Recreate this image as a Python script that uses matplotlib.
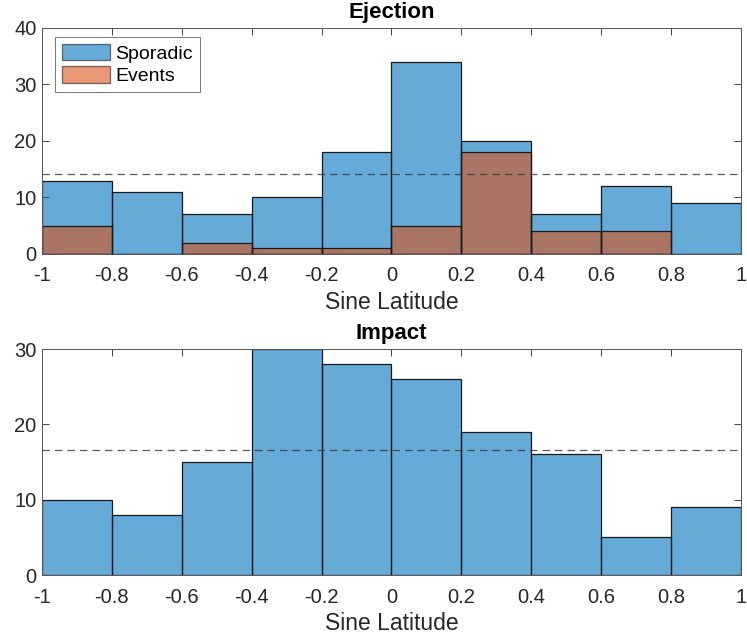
#!/usr/bin/env python3
"""
Histogramas de latitud (seno) para eyección e impacto
"""

import numpy as np
import matplotlib
matplotlib.use('Agg')
import matplotlib.pyplot as plt

plt.rcParams['font.family'] = ['Liberation Sans', 'DejaVu Sans']

# Bordes de los intervalos (seno de la latitud)
bin_edges = [-1.0, -0.8, -0.6, -0.4, -0.2, 0.0, 0.2, 0.4, 0.6, 0.8, 1.0]

# Conteos por intervalo
ejection_sporadic = [13, 11, 7, 10, 18, 34, 20, 7, 12, 9]
ejection_events = [5, 0, 2, 1, 1, 5, 18, 4, 4, 0]
impact_sporadic = [10, 8, 15, 30, 28, 26, 19, 16, 5, 9]

x_ticks = [-1, -0.8, -0.6, -0.4, -0.2, 0, 0.2, 0.4, 0.6, 0.8, 1]
x_ticklabels = ['-1', '-0.8', '-0.6', '-0.4', '-0.2', '0', '0.2', '0.4', '0.6', '0.8', '1']

BLUE = '#0072BD'
ORANGE = '#D95319'
AXIS_GRAY = '#262626'


def hist_bars(ax, counts, color, label):
    left = np.array(bin_edges[:-1])
    width = np.diff(bin_edges)
    ax.bar(left, counts, width=width, align='edge', color=color, alpha=0.6,
           edgecolor='none', label=label, zorder=2)
    # bordes opacos como en MATLAB
    ax.bar(left, counts, width=width, align='edge', fill=False,
           edgecolor='#1a1a1a', linewidth=0.9, zorder=3)


def style_axis(ax, ymax, yticks, title):
    ax.set_xlim(-1, 1)
    ax.set_ylim(0, ymax)
    ax.set_xticks(x_ticks)
    ax.set_xticklabels(x_ticklabels)
    ax.set_yticks(yticks)
    ax.tick_params(direction='in', top=True, right=True, length=5,
                   width=0.6, colors=AXIS_GRAY, labelsize=14.5)
    ax.tick_params(axis='x', pad=9)
    ax.tick_params(axis='y', pad=4)
    for s in ax.spines.values():
        s.set_color('#555555')
        s.set_linewidth(0.7)
        s.set_zorder(4)
    ax.set_xlabel('Sine Latitude', fontsize=16.5, color=AXIS_GRAY, labelpad=4)
    ax.set_title(title, fontsize=16, fontweight='bold', pad=7)


fig = plt.figure(figsize=(7.47, 6.37), dpi=100)
ax1 = fig.add_axes([0.0562, 0.6013, 0.9357, 0.3548])
ax2 = fig.add_axes([0.0562, 0.0973, 0.9357, 0.3548])

# Panel superior: eyección
hist_bars(ax1, ejection_sporadic, BLUE, 'Sporadic')
hist_bars(ax1, ejection_events, ORANGE, 'Events')
ax1.axhline(np.mean(ejection_sporadic), color='#333333', linestyle=(0, (6, 4)),
            linewidth=0.9, alpha=0.8, zorder=5)
style_axis(ax1, 40, [0, 10, 20, 30, 40], 'Ejection')
leg = ax1.legend(loc='upper left', bbox_to_anchor=(0.0186, 0.96), fontsize=14,
                 frameon=True, fancybox=False, handlelength=2.5, handleheight=0.9,
                 handletextpad=0.25, borderpad=0.35, labelspacing=0.2,
                 borderaxespad=0)
leg.get_frame().set_edgecolor('#555555')
leg.get_frame().set_linewidth(0.7)
for h in leg.legend_handles:
    h.set_edgecolor('#1a1a1a')
    h.set_linewidth(0.9)

# Panel inferior: impacto
hist_bars(ax2, impact_sporadic, BLUE, 'Sporadic')
ax2.axhline(np.mean(impact_sporadic), color='#333333', linestyle=(0, (6, 4)),
            linewidth=0.9, alpha=0.8, zorder=5)
style_axis(ax2, 30, [0, 10, 20, 30], 'Impact')

plt.savefig('out.png', dpi=100)
plt.close()
